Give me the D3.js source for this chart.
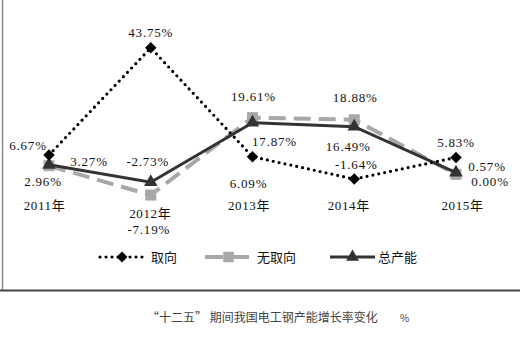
<!DOCTYPE html>
<html>
<head>
<meta charset="utf-8">
<script src="https://cdn.jsdelivr.net/npm/d3@7"></script>
<style>
  body { margin: 0; background: #fff; }
  svg { display: block; }
</style>
</head>
<body>
<script>
// data
var years = ["2011年", "2012年", "2013年", "2014年", "2015年"];
var oriented = [6.67, 43.75, 6.09, -1.64, 5.83];      // 取向
var nonOriented = [2.96, -7.19, 19.61, 18.88, 0.00];  // 无取向
var total = [3.27, -2.73, 17.87, 16.49, 0.57];        // 总产能
var seriesNames = ["取向", "无取向", "总产能"];
var caption = "“十二五” 期间我国电工钢产能增长率变化";

var width = 520, height = 341;

var svg = d3.select("body").append("svg")
  .attr("width", width)
  .attr("height", height);

var x = d3.scalePoint().domain(years).range([49, 456]);
var y = d3.scaleLinear().domain([-10, 50]).range([203.2, 29.8]);

// frame lines from the scan
svg.append("line").attr("x1", 2.5).attr("x2", 2.5).attr("y1", 0).attr("y2", 290)
  .style("stroke", "#8a8a8a").style("stroke-width", 1.5);
svg.append("line").attr("x1", 0).attr("x2", width).attr("y1", 290.5).attr("y2", 290.5)
  .style("stroke", "#444").style("stroke-width", 2);

// category labels
var xAxis = svg.append("g")
  .attr("transform", "translate(0,197)")
  .call(d3.axisBottom(x).tickSize(0).tickPadding(0));
xAxis.select(".domain").remove();
var yearShift = [[-5, 0], [-1, 8], [-4, 0], [-6, 0], [6, 0]];
xAxis.selectAll(".tick text")
  .attr("dy", "0")
  .attr("y", (d, i) => 13 + yearShift[i][1])
  .attr("x", (d, i) => yearShift[i][0])
  .style("font-family", "'Liberation Serif', 'Noto Sans CJK SC', serif")
  .style("font-size", "13px")
  .style("letter-spacing", "0.6px")
  .style("fill", "#111");

var series = [
  { name: seriesNames[1], values: nonOriented, color: "#a8a8a8", width: 4, dash: "17 8", cap: "butt",
    symbol: d3.symbolSquare, size: 121, rotate: 0,
    labelOff: [[-6, 20], [-2, 39], [1, -17], [1, -18], [34, 12]] },
  { name: seriesNames[2], values: total, color: "#333", width: 3, dash: null, cap: "butt",
    symbol: d3.symbolTriangle, size: 80, rotate: 0,
    labelOff: [[40, 1], [-3, -16], [22, 23], [-6, 24], [31, -2]] },
  { name: seriesNames[0], values: oriented, color: "#000", width: 3.2, dash: "0 6", cap: "round",
    symbol: d3.symbolSquare, size: 66, rotate: 45,
    labelOff: [[-21, -5], [0, -11], [-4, 31], [2, -10], [0, -10]] }
];

var line = d3.line()
  .x((d, i) => x(years[i]))
  .y(d => y(d));

series.forEach(s => {
  svg.append("path")
    .datum(s.values)
    .attr("d", line)
    .style("fill", "none")
    .style("stroke", s.color)
    .style("stroke-width", s.width)
    .style("stroke-linecap", s.cap)
    .style("stroke-dasharray", s.dash);

  svg.selectAll(null)
    .data(s.values)
    .enter().append("path")
    .attr("d", d3.symbol().type(s.symbol).size(s.size))
    .attr("transform", (d, i) => "translate(" + x(years[i]) + "," + y(d) + ") rotate(" + s.rotate + ")")
    .style("fill", s.color);
});

// data labels
series.forEach(s => {
  svg.selectAll(null)
    .data(s.values)
    .enter().append("text")
    .attr("x", (d, i) => x(years[i]) + s.labelOff[i][0])
    .attr("y", (d, i) => y(d) + s.labelOff[i][1])
    .attr("text-anchor", "middle")
    .style("font-family", "'Liberation Serif', serif")
    .style("font-size", "13px")
    .style("letter-spacing", "0.8px")
    .style("fill", "#111")
    .text(d => d.toFixed(2) + "%");
});

// legend
var legend = [
  { s: series[2], x1: 100, x2: 144, tx: 151 },
  { s: series[0], x1: 205, x2: 252, tx: 257 },
  { s: series[1], x1: 330, x2: 375, tx: 378 }
];
var ly = 257;
legend.forEach(l => {
  var s = l.s;
  svg.append("line")
    .attr("x1", l.x1).attr("x2", l.x2).attr("y1", ly).attr("y2", ly)
    .style("stroke", s.color)
    .style("stroke-width", s.width)
    .style("stroke-linecap", s.cap)
    .style("stroke-dasharray", s.name === "无取向" ? "18 8" : s.dash);
  svg.append("path")
    .attr("d", d3.symbol().type(s.symbol).size(s.size * 0.9))
    .attr("transform", "translate(" + ((l.x1 + l.x2) / 2) + "," + ly + ") rotate(" + s.rotate + ")")
    .style("fill", s.color);
  svg.append("text")
    .attr("x", l.tx).attr("y", ly + 5)
    .style("font-family", "'Noto Sans CJK SC', sans-serif")
    .style("font-size", "13px")
    .style("fill", "#111")
    .text(s.name);
});

// caption
svg.append("text")
  .attr("x", 147).attr("y", 322)
  .style("font-family", "'Noto Sans CJK SC', sans-serif")
  .style("font-size", "12px")
  .style("fill", "#444")
  .text(caption);
svg.append("text")
  .attr("x", 400).attr("y", 322)
  .style("font-family", "'Noto Sans CJK SC', sans-serif")
  .style("font-size", "10px")
  .style("fill", "#444")
  .text("%");
</script>
</body>
</html>
